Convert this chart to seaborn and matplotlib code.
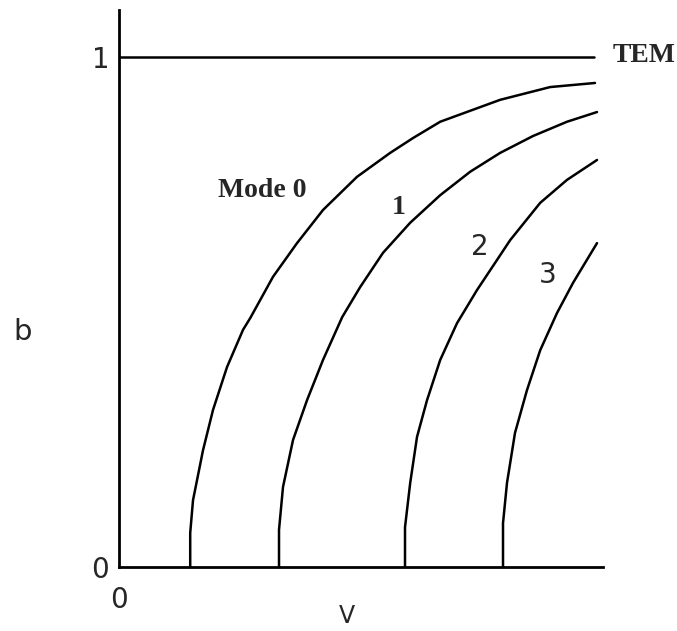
import matplotlib
matplotlib.use("Agg")
import matplotlib.pyplot as plt
import seaborn as sns
import pandas as pd

# b-V curves (normalised frequency V, normalised index b)
v_mode0 = [1.78, 1.78, 1.85, 2.1, 2.35, 2.7, 3.1, 3.28, 3.85, 4.45, 5.1, 5.95, 6.78, 7.35, 8.03, 9.53, 10.78, 11.9]
b_mode0 = [0, 0.067, 0.131, 0.229, 0.308, 0.392, 0.465, 0.488, 0.569, 0.635, 0.70, 0.765, 0.812, 0.841, 0.873, 0.916, 0.941, 0.949]

v_mode1 = [4.0, 4.0, 4.1, 4.35, 4.7, 5.1, 5.58, 6.03, 6.6, 7.28, 8.03, 8.78, 9.53, 10.35, 11.2, 11.95]
b_mode1 = [0, 0.073, 0.157, 0.249, 0.327, 0.406, 0.49, 0.549, 0.616, 0.675, 0.729, 0.775, 0.812, 0.845, 0.873, 0.892]

v_mode2 = [7.15, 7.15, 7.28, 7.45, 7.7, 8.03, 8.45, 8.95, 9.45, 9.78, 10.53, 11.2, 11.95]
b_mode2 = [0, 0.078, 0.165, 0.255, 0.327, 0.406, 0.478, 0.543, 0.602, 0.641, 0.714, 0.759, 0.798]

v_mode3 = [9.6, 9.6, 9.7, 9.9, 10.2, 10.53, 10.95, 11.35, 11.95]
b_mode3 = [0, 0.086, 0.165, 0.263, 0.347, 0.425, 0.498, 0.557, 0.635]

v_tem = [0, 11.88]
b_tem = [1, 1]

mode_labels = ["Mode 0", "1", "2", "3"]
label_pos = [(3.58, 0.739), (6.98, 0.704), (9.03, 0.627), (10.73, 0.573)]

sns.set_style("white")
plt.rcParams['font.family'] = ['DejaVu Sans']

fig = plt.figure(figsize=(6.77, 6.31), dpi=100)
ax = fig.add_axes([0.1758, 0.1014, 0.7149, 0.8827])

curves = [(v_mode0, b_mode0), (v_mode1, b_mode1), (v_mode2, b_mode2), (v_mode3, b_mode3), (v_tem, b_tem)]
for v, b in curves:
    df = pd.DataFrame({"V": v, "b": b})
    sns.lineplot(data=df, x="V", y="b", sort=False, estimator=None,
                 color="black", linewidth=1.8, ax=ax)

ax.set_xlim(0, 12.1)
ax.set_ylim(0, 1.092)

for side in ["top", "right"]:
    ax.spines[side].set_visible(False)
for side in ["left", "bottom"]:
    ax.spines[side].set_color("black")
    ax.spines[side].set_linewidth(2)

ax.set_xticks([0])
ax.set_xticklabels(["0"])
ax.set_yticks([0, 1])
ax.set_yticklabels(["0", "1"])
ax.tick_params(axis="x", length=0, pad=14, labelsize=20)
ax.tick_params(axis="y", length=0, pad=7, labelsize=20)

ax.set_xlabel("")
ax.set_ylabel("")
ax.text(0.471, -0.088, "V", transform=ax.transAxes, ha="center", va="center", fontsize=17)
ax.text(-0.2, 0.422, "b", transform=ax.transAxes, ha="center", va="center", fontsize=21)

# curve labels
serif = ["Liberation Serif", "DejaVu Serif"]
for i, (txt, (x, y)) in enumerate(zip(mode_labels, label_pos)):
    fam = serif if i < 2 else ["DejaVu Sans"]
    ax.text(x, y, txt, ha="center", va="center", fontsize=20, family=fam,
            fontweight="bold" if i < 2 else "normal")

ax.text(12.33, 1.002, "TEM", ha="left", va="center", fontsize=20, family=serif,
        fontweight="bold", clip_on=False)

fig.savefig("out.png", dpi=100)
